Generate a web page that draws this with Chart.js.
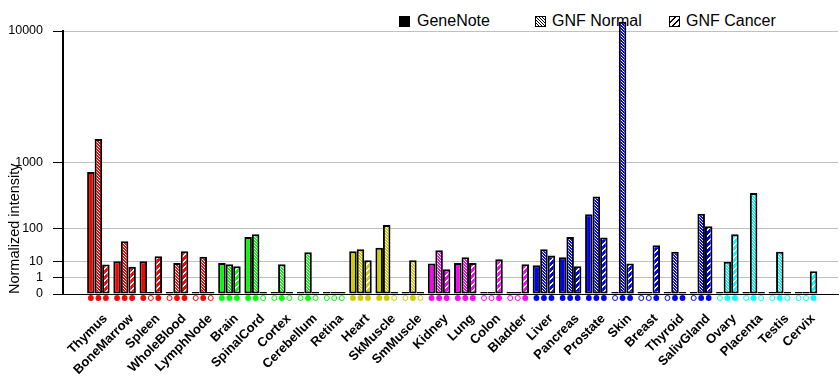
<!DOCTYPE html>
<html>
<head>
<meta charset="utf-8">
<script src="https://cdn.jsdelivr.net/npm/chart.js@4/dist/chart.umd.min.js"></script>
<style>
  html, body { margin: 0; padding: 0; background: #fff; }
  #wrap { position: relative; width: 840px; height: 385px; }
  #legend { position: absolute; left: 0; top: 0; width: 840px; height: 40px; z-index: 0;
            font: 16px "Liberation Sans", Arial, sans-serif; color: #000; }
  #legend .txt { position: absolute; top: 12px; line-height: 18px; white-space: nowrap; }
  #legend canvas { position: absolute; top: 16px; }
  #chart { position: absolute; left: 0; top: 0; z-index: 1; }
</style>
</head>
<body>
<div id="wrap">
  <div id="legend"></div>
  <canvas id="chart" width="840" height="385"></canvas>
</div>
<script>
// ---------------- data ----------------
const categories = ["Thymus","BoneMarrow","Spleen","WholeBlood","LymphNode","Brain","SpinalCord","Cortex","Cerebellum","Retina",
  "Heart","SkMuscle","SmMuscle","Kidney","Lung","Colon","Bladder","Liver","Pancreas","Prostate",
  "Skin","Breast","Thyroid","SalivGland","Ovary","Placenta","Testis","Cervix"];

const seriesNames = ["GeneNote", "GNF Normal", "GNF Cancer"];

const geneNote  = [780, 10, 10, 0, 0, 8.3, 62, 0, 0, 0, 24, 31, 0, 7.7, 8.3, 0, 0, 6.4, 14.5, 190, 0, 0, 0, 0, 0, 0, 0, 0];
const gnfNormal = [1730, 48, 0, 8.3, 15, 7.2, 73, 7.2, 22, 0, 28, 117, 11, 26, 14.5, 0, 0, 28, 62, 370, 11200, 0, 23, 193, 9.5, 415, 23, 0];
const gnfCancer = [6.9, 5.4, 16, 24, 0, 5.7, 0, 0, 0, 0, 11, 0, 0, 3.9, 8.3, 12, 7.2, 17, 5.7, 60, 7.7, 37, 0, 110, 73, 0, 0, 2.9];

// presence calls (1 = filled marker, 0 = open marker)
const geneNoteCall  = [1,1,1,0,0,1,1,0,0,0,1,1,0,1,1,0,0,1,1,1,0,0,0,0,0,0,0,0];
const gnfNormalCall = [1,1,0,1,1,1,1,1,1,0,1,1,1,1,1,0,0,1,1,1,1,0,1,1,1,1,1,0];
const gnfCancerCall = [1,1,1,1,0,1,0,0,0,0,1,0,0,1,1,1,1,1,1,1,1,1,1,1,1,0,0,1];

const yTickValues = [0, 1, 10, 100, 1000, 10000];

// ---------------- style ----------------
const RED = "#ff0000", GREEN = "#00ff00", OLIVE = "#cccc00", MAGENTA = "#ff00ff", BLUE = "#0000ff", CYAN = "#00ffff";
const catColors = [RED,RED,RED,RED,RED, GREEN,GREEN,GREEN,GREEN,GREEN, OLIVE,OLIVE,OLIVE,
  MAGENTA,MAGENTA,MAGENTA,MAGENTA, BLUE,BLUE,BLUE,BLUE,BLUE,BLUE,BLUE, CYAN,CYAN,CYAN,CYAN];
const FONT = '"Liberation Sans", Arial, sans-serif';

// axis transform: each decade doubles the distance (value^log10(2))
function tf(v) { return v > 0 ? Math.pow(2, Math.log10(v)) : 0; }

const canvas = document.getElementById('chart');
const mainCtx = canvas.getContext('2d');

function drawTile(kind, base, line) {
  const n = kind === 'normal' ? 3 : 6;
  const c = document.createElement('canvas');
  c.width = n; c.height = n;
  const g = c.getContext('2d');
  g.fillStyle = base; g.fillRect(0, 0, n, n);
  g.fillStyle = line;
  for (let yy = 0; yy < n; yy++) for (let xx = 0; xx < n; xx++) {
    const on = kind === 'normal' ? ((xx - yy + n) % n === 0) : ((xx + yy) % n < 2);
    if (on) g.fillRect(xx, yy, 1, 1);
  }
  return c;
}
function makePattern(kind, color) {
  return mainCtx.createPattern(drawTile(kind, color, '#ffffff'), 'repeat');
}

// ---------------- legend ----------------
(function buildLegend() {
  const leg = document.getElementById('legend');
  const iconX = [399, 535, 669];
  const textX = [417, 552, 686];
  const kinds = ['solid', 'normal', 'cancer'];
  seriesNames.forEach((name, i) => {
    const ic = document.createElement('canvas');
    ic.width = 11; ic.height = 11;
    ic.style.left = iconX[i] + 'px';
    const g = ic.getContext('2d');
    if (kinds[i] === 'solid') {
      g.fillStyle = '#000'; g.fillRect(0, 0, 11, 11);
    } else {
      g.fillStyle = g.createPattern(drawTile(kinds[i], '#ffffff', '#000000'), 'repeat');
      g.fillRect(0, 0, 11, 11);
      g.strokeStyle = '#000'; g.lineWidth = 1; g.strokeRect(0.5, 0.5, 10, 10);
    }
    leg.appendChild(ic);
    const t = document.createElement('span');
    t.className = 'txt';
    t.style.left = textX[i] + 'px';
    t.textContent = name;
    leg.appendChild(t);
  });
})();

// ---------------- chart ----------------
const toPoints = arr => arr.map((v, i) => ({ x: i, y: tf(v) }));
const calls = [geneNoteCall, gnfNormalCall, gnfCancerCall];

const barCommon = {
  borderColor: '#000000',
  borderWidth: 2,
  borderSkipped: false,
  minBarLength: 2,
  categoryPercentage: 0.86,
  barPercentage: 1.0,
  clip: false
};

const callMarkers = {
  id: 'callMarkers',
  afterDatasetsDraw(chart) {
    const ctx = chart.ctx;
    const y = chart.chartArea.bottom + 4;
    calls.forEach((arr, d) => {
      const meta = chart.getDatasetMeta(d);
      meta.data.forEach((bar, i) => {
        ctx.save();
        ctx.beginPath();
        if (arr[i]) {
          ctx.arc(bar.x, y, 2.9, 0, Math.PI * 2);
          ctx.fillStyle = catColors[i]; ctx.fill();
        } else {
          ctx.arc(bar.x, y, 2.5, 0, Math.PI * 2);
          ctx.fillStyle = '#fff'; ctx.fill();
          ctx.strokeStyle = catColors[i]; ctx.lineWidth = 1; ctx.stroke();
        }
        ctx.restore();
      });
    });
  }
};

new Chart(canvas, {
  type: 'bar',
  data: {
    datasets: [
      Object.assign({ label: seriesNames[0], data: toPoints(geneNote), backgroundColor: catColors }, barCommon),
      Object.assign({ label: seriesNames[1], data: toPoints(gnfNormal), backgroundColor: catColors.map(c => makePattern('normal', c)) }, barCommon),
      Object.assign({ label: seriesNames[2], data: toPoints(gnfCancer), backgroundColor: catColors.map(c => makePattern('cancer', c)) }, barCommon)
    ]
  },
  options: {
    responsive: false,
    devicePixelRatio: 1,
    animation: false,
    layout: { padding: { left: 0, right: 2, top: 31, bottom: 0 } },
    plugins: { legend: { display: false }, tooltip: { enabled: false } },
    scales: {
      x: {
        type: 'linear',
        min: -1.35,
        max: 28.22,
        offset: false,
        afterBuildTicks: s => { s.ticks = categories.map((c, i) => ({ value: i })); },
        afterFit: s => { s.height = 91; },
        ticks: {
          autoSkip: false, maxRotation: 45, minRotation: 45,
          callback: (v, i) => categories[i],
          font: { family: FONT, size: 13, weight: 'bold' },
          color: '#000', padding: 2, labelOffset: 7
        },
        grid: { display: false, drawTicks: true, tickLength: 15, offset: false },
        border: { display: true, color: '#000', width: 1 }
      },
      y: {
        type: 'linear',
        min: 0,
        max: tf(10000),
        afterBuildTicks: s => { s.ticks = yTickValues.map(v => ({ value: tf(v) })); },
        afterFit: s => { s.width = 63; },
        ticks: {
          callback: (v, i) => String(yTickValues[i]),
          font: { family: FONT, size: 12.5 },
          color: '#000', padding: 10
        },
        grid: { color: '#c0c0c0', lineWidth: 1, tickColor: '#000', tickLength: 10, drawTicks: true },
        border: { display: true, color: '#000', width: 2 },
        title: {
          display: true, text: 'Normalized intensity', align: 'start',
          font: { family: FONT, size: 14.5 }, color: '#000', padding: { top: 6, bottom: 0 }
        }
      }
    }
  },
  plugins: [callMarkers]
});
</script>
</body>
</html>
